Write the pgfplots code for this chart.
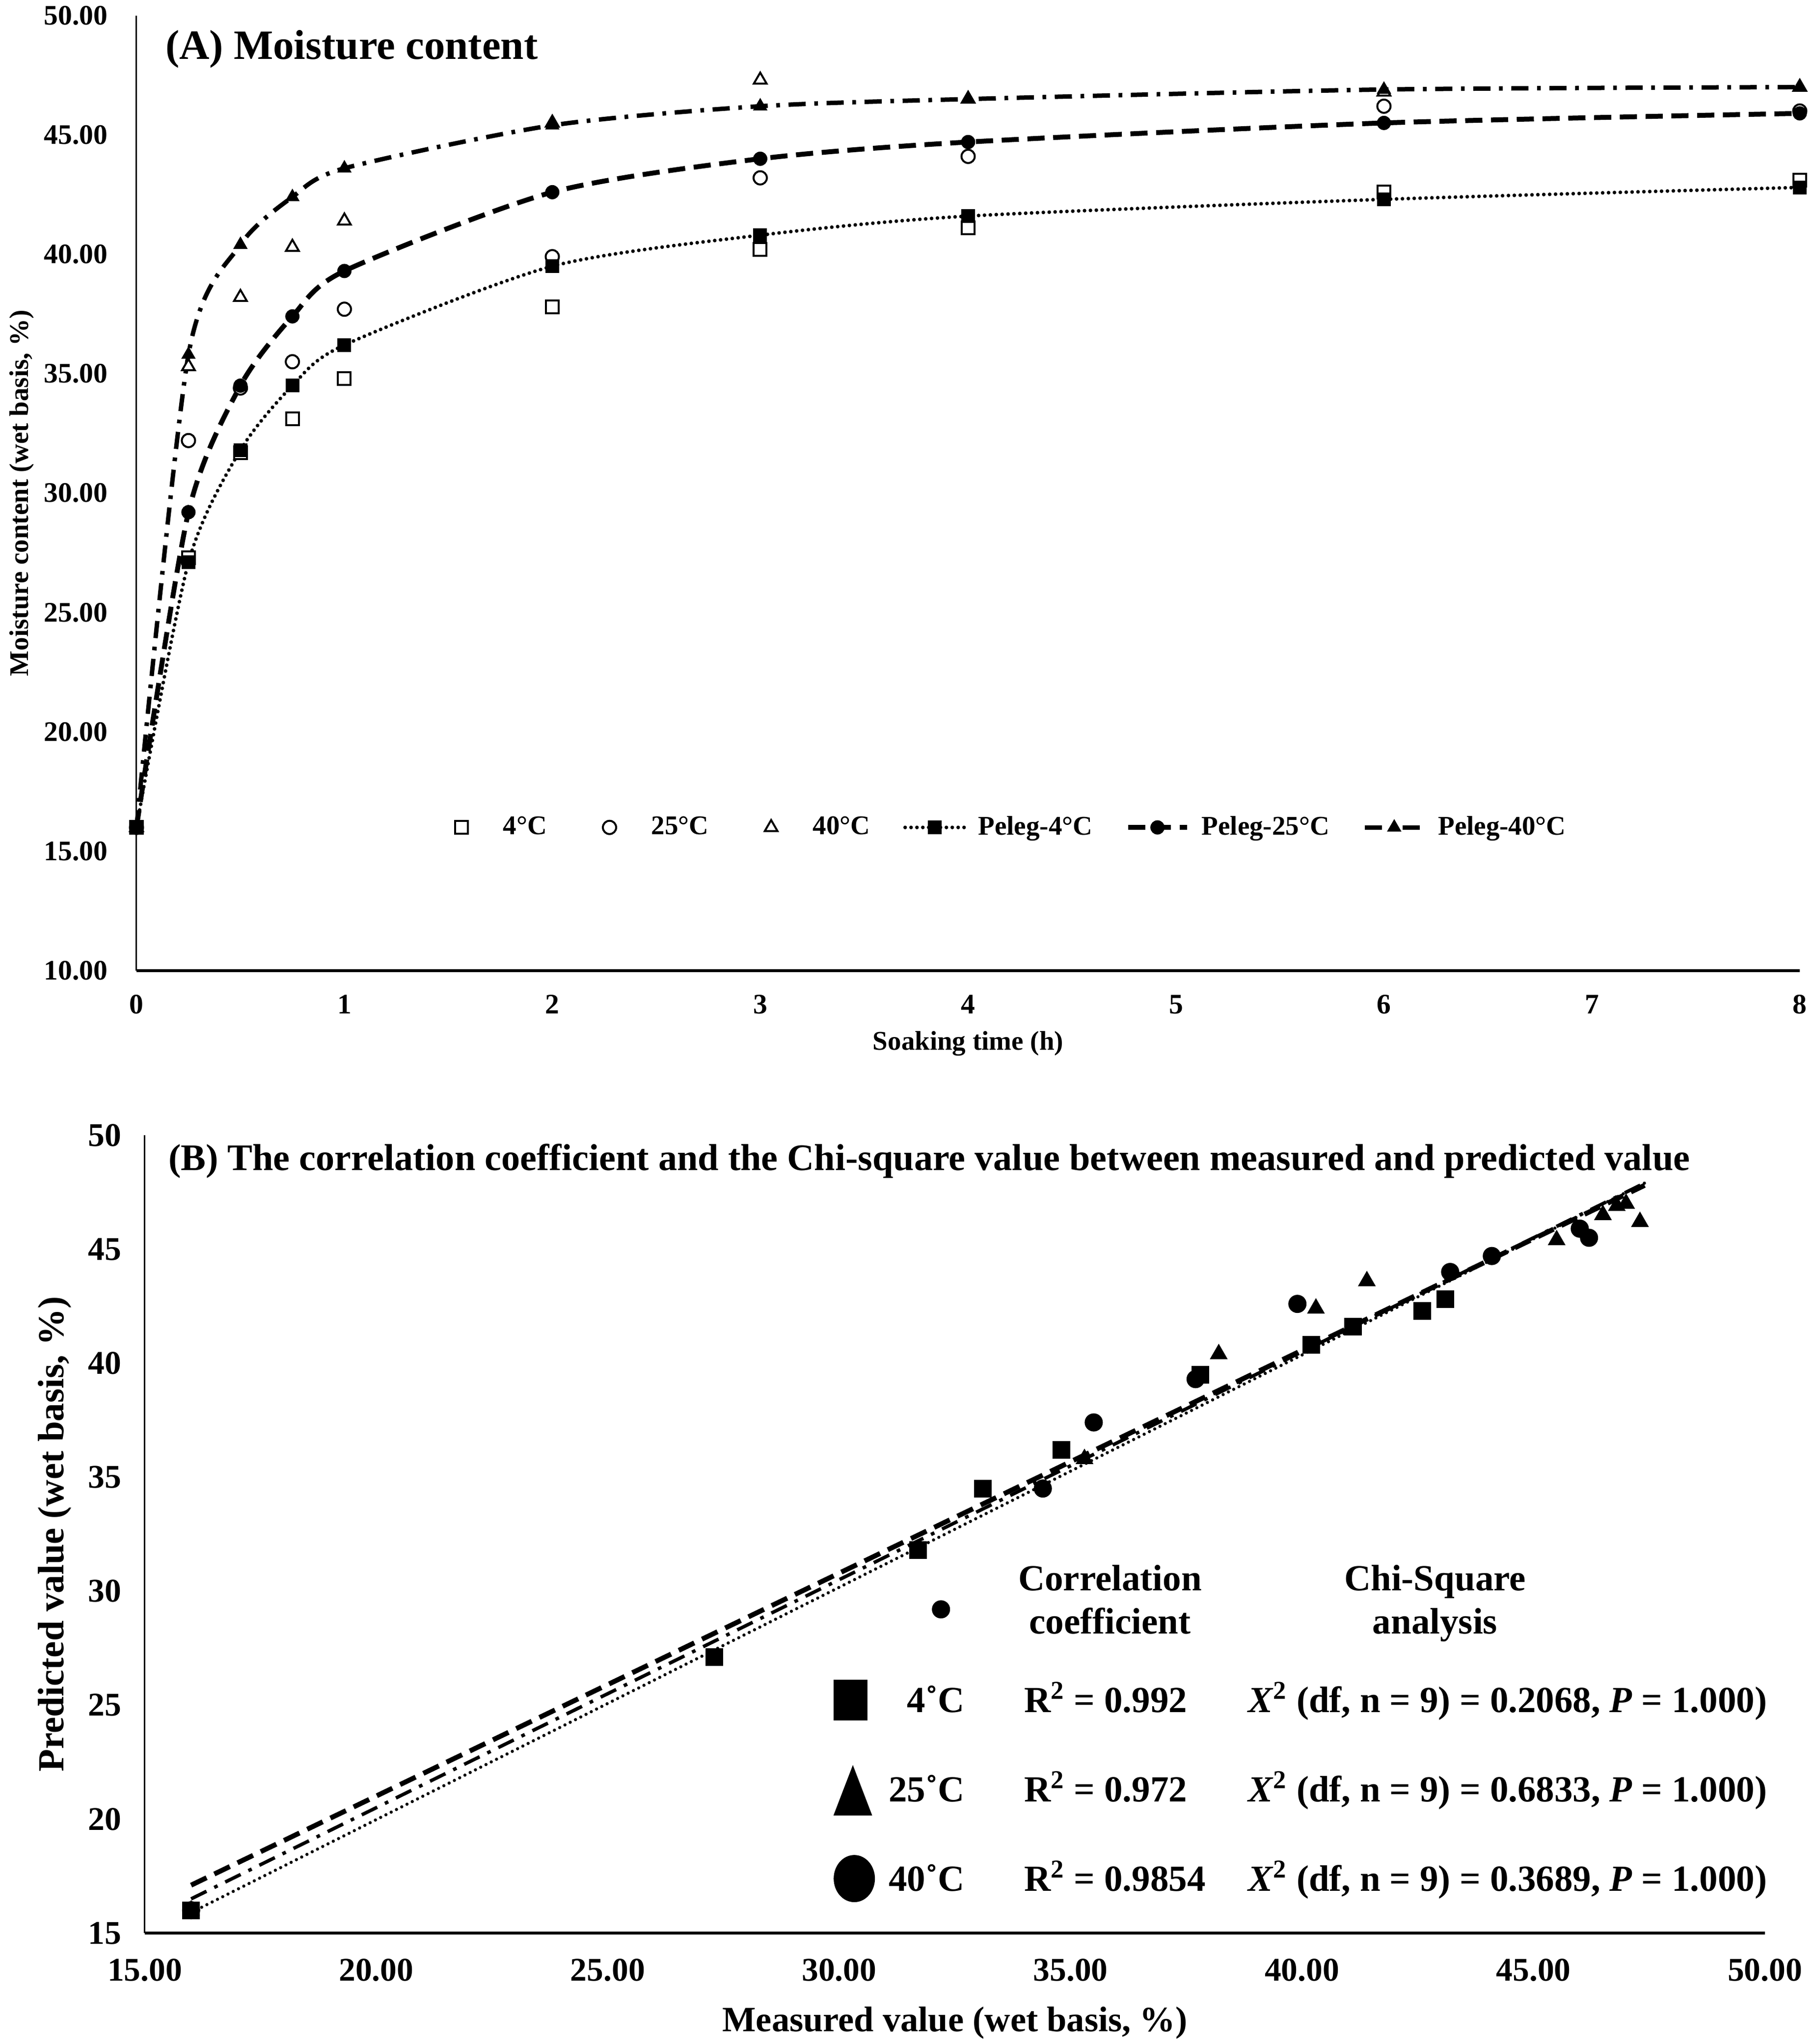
\documentclass[border=0pt]{standalone}
\usepackage{fontspec}
\setmainfont{Liberation Serif}
\usepackage{pgfplots}
\pgfplotsset{compat=1.18}
\newcommand\ff[1]{\fontsize{#1}{#1}\selectfont\bfseries}
\pgfplotsset{
  toplegend/.style={legend image code/.code={\path[draw=none,fill=none] (0pt,-3pt) rectangle (24pt,3pt);\draw[mark repeat=2,mark phase=2,##1] plot coordinates {(0pt,0pt) (12pt,0pt) (24pt,0pt)};}},
}
\tikzset{
  dotline/.style={line width=1.5pt, line cap=round, dash pattern=on 0pt off 2.4pt},
  dashline/.style={line width=2pt, dash pattern=on 7pt off 3.5pt},
  dashdotline/.style={line width=1.8pt, dash pattern=on 7pt off 3.5pt on 1.5pt off 3.5pt},
}
\begin{document}
\begin{tikzpicture}
\path[use as bounding box] (0pt,0pt) rectangle (739.2pt,-832.6pt);
% ---------------- Panel A ----------------
\begin{axis}[
  at={(55.6pt,-395.4pt)}, anchor=south west,
  scale only axis, width=677.6pt, height=389.1pt,
  xmin=0, xmax=8, ymin=10, ymax=50,
  xtick={0,1,...,8}, ytick={10,15,...,50},
  axis lines=left, axis line style={-},
  x axis line style={line width=1.2pt}, y axis line style={line width=0.6pt},
  major tick length=0pt,
  clip=false,
  /pgf/number format/assume math mode=true,
  tick label style={font=\ff{11.5pt}},
  yticklabel style={/pgf/number format/fixed, /pgf/number format/fixed zerofill, /pgf/number format/precision=2, xshift=-8.2pt},
  xticklabel style={yshift=-6.4pt},
  xlabel={Soaking time (h)}, ylabel={Moisture content (wet basis, \%)},
  label style={font=\ff{11pt}},
  xlabel style={at={(axis description cs:0.5,-0.0761)}, anchor=center},
  ylabel style={at={(axis description cs:-0.0691,0.5)}, anchor=center},
  legend columns=6,
  legend style={at={(axis cs:4.16,16)}, anchor=center, draw=none, fill=none, font=\ff{11pt},
    /tikz/every odd column/.append style={column sep=3pt},
    /tikz/every even column/.append style={column sep=11.5pt}},
]
\addplot[only marks, mark=square*, mark size=2.6pt, mark options={fill=white, draw=black, line width=0.8pt}, toplegend]
  coordinates {(0,16.0) (0.25,27.3) (0.5,31.7) (0.75,33.1) (1,34.8) (2,37.8) (3,40.2) (4,41.1) (6,42.6) (8,43.1)};
\addlegendentry{4°C}
\addplot[only marks, mark=*, mark size=2.7pt, mark options={fill=white, draw=black, line width=0.8pt}, toplegend]
  coordinates {(0,16.0) (0.25,32.2) (0.5,34.4) (0.75,35.5) (1,37.7) (2,39.9) (3,43.2) (4,44.1) (6,46.2) (8,46.0)};
\addlegendentry{25°C}
\addplot[only marks, mark=triangle*, mark size=3pt, mark options={fill=white, draw=black, line width=0.8pt}, toplegend]
  coordinates {(0,16.0) (0.25,35.3) (0.5,38.2) (0.75,40.3) (1,41.4) (2,45.5) (3,47.3) (4,46.5) (6,46.8) (8,47.0)};
\addlegendentry{40°C}
\addplot[black, dotline, smooth, tension=0.45, mark=square*, mark size=2.6pt, mark options={solid, line width=0.4pt}, toplegend]
  coordinates {(0,16.0) (0.25,27.1) (0.5,31.8) (0.75,34.5) (1,36.2) (2,39.5) (3,40.8) (4,41.6) (6,42.3) (8,42.8)};
\addlegendentry{Peleg-4°C}
\addplot[black, dashline, smooth, tension=0.45, mark=*, mark size=2.7pt, mark options={solid, line width=0.4pt}, toplegend]
  coordinates {(0,16.0) (0.25,29.2) (0.5,34.5) (0.75,37.4) (1,39.3) (2,42.6) (3,44.0) (4,44.7) (6,45.5) (8,45.9)};
\addlegendentry{Peleg-25°C}
\addplot[black, dashdotline, smooth, tension=0.45, mark=triangle*, mark size=3pt, mark options={solid, line width=0.4pt}, toplegend]
  coordinates {(0,16.0) (0.25,35.8) (0.5,40.4) (0.75,42.4) (1,43.6) (2,45.4) (3,46.2) (4,46.5) (6,46.9) (8,47.0)};
\addlegendentry{Peleg-40°C}
\end{axis}
% ---------------- Panel B ----------------
\begin{axis}[
  at={(59pt,-787.4pt)}, anchor=south west,
  scale only axis, width=660pt, height=325pt,
  xmin=15, xmax=50, ymin=15, ymax=50,
  xtick={15,20,...,50}, ytick={15,20,...,50},
  axis lines=left, axis line style={-},
  x axis line style={line width=1.2pt}, y axis line style={line width=0.6pt},
  major tick length=0pt,
  clip=false,
  /pgf/number format/assume math mode=true,
  tick label style={font=\ff{13.5pt}},
  xticklabel style={/pgf/number format/fixed, /pgf/number format/fixed zerofill, /pgf/number format/precision=2, yshift=-7pt},
  yticklabel style={xshift=-6pt},
  xlabel={Measured value (wet basis, \%)}, ylabel={Predicted value (wet basis, \%)},
  xlabel style={font=\ff{14.5pt}, at={(axis description cs:0.5,-0.1126)}, anchor=center},
  ylabel style={font=\ff{15pt}, at={(axis description cs:-0.0555,0.5)}, anchor=center},
  legend cell align=left,
  legend style={at={(0.4252,0.3292)}, anchor=north west, draw=none, fill=none,
    inner sep=0pt, outer sep=0pt, row sep=12.4pt, column sep=6.4pt, font=\ff{15pt},
    nodes={inner sep=0pt, text height=10pt, text depth=0pt}},
]
\addplot[black, dashline, forget plot] coordinates {(16,17.1) (47.4,47.8)};
\addplot[black, dashdotline, line width=1.4pt, forget plot] coordinates {(16,16.5) (47.4,47.9)};
\addplot[black, dotline, line width=1.3pt, forget plot] coordinates {(16,15.9) (47.4,47.9)};
\addplot[only marks, mark=square*, mark size=3.4pt, black, forget plot]
  coordinates {(16.0,16.0) (27.3,27.1) (31.7,31.8) (33.1,34.5) (34.8,36.2) (37.8,39.5) (40.2,40.8) (41.1,41.6) (42.6,42.3) (43.1,42.8)};
\addplot[only marks, mark=*, mark size=3.5pt, black, forget plot]
  coordinates {(16.0,16.0) (32.2,29.2) (34.4,34.5) (35.5,37.4) (37.7,39.3) (39.9,42.6) (43.2,44.0) (44.1,44.7) (46.2,45.5) (46.0,45.9)};
\addplot[only marks, mark=triangle*, mark size=3.8pt, black, forget plot]
  coordinates {(16.0,16.0) (35.3,35.8) (38.2,40.4) (40.3,42.4) (41.4,43.6) (45.5,45.4) (47.3,46.2) (46.5,46.5) (46.8,46.9) (47.0,47.0)};
\addlegendimage{legend image code/.code={\path[draw=none,fill=none] (0pt,-12pt) rectangle (16.4pt,12pt); \fill[black] (0pt,-8.1pt) rectangle (13.4pt,8.1pt);}}
\addlegendentry{\makebox[30pt][r]{4˚C}\hspace{24.4pt}\makebox[91.2pt][l]{R\textsuperscript{2} = 0.992}\textit{X}\textsuperscript{2} (df, n = 9) = 0.2068, \textit{P} = 1.000)}
\addlegendimage{legend image code/.code={\path[draw=none,fill=none] (0pt,-12pt) rectangle (16.4pt,12pt); \fill[black] (0pt,-10.5pt) -- (15.2pt,-10.5pt) -- (7.6pt,9.3pt) -- cycle;}}
\addlegendentry{\makebox[30pt][r]{25˚C}\hspace{24.4pt}\makebox[91.2pt][l]{R\textsuperscript{2} = 0.972}\textit{X}\textsuperscript{2} (df, n = 9) = 0.6833, \textit{P} = 1.000)}
\addlegendimage{legend image code/.code={\path[draw=none,fill=none] (0pt,-12pt) rectangle (16.4pt,12pt); \fill[black] (8.2pt,0pt) ellipse [x radius=8.2pt, y radius=9.4pt];}}
\addlegendentry{\makebox[30pt][r]{40˚C}\hspace{24.4pt}\makebox[91.2pt][l]{R\textsuperscript{2} = 0.9854}\textit{X}\textsuperscript{2} (df, n = 9) = 0.3689, \textit{P} = 1.000)}
\end{axis}
% ---------------- Titles and headers ----------------
\node[anchor=west, inner sep=0pt, font=\ff{17pt}] at (67.2pt,-20pt) {(A) Moisture content};
\node[anchor=west, inner sep=0pt, font=\ff{15.25pt}] at (68.4pt,-473pt) {(B) The correlation coefficient and the Chi-square value between measured and predicted value};
\node[anchor=base, inner sep=0pt, font=\ff{15pt}] at (452.2pt,-647.8pt) {Correlation};
\node[anchor=base, inner sep=0pt, font=\ff{15pt}] at (452.2pt,-665.4pt) {coefficient};
\node[anchor=base, inner sep=0pt, font=\ff{15pt}] at (584.6pt,-647.8pt) {Chi-Square};
\node[anchor=base, inner sep=0pt, font=\ff{15pt}] at (584.6pt,-665.4pt) {analysis};
\end{tikzpicture}
\end{document}
